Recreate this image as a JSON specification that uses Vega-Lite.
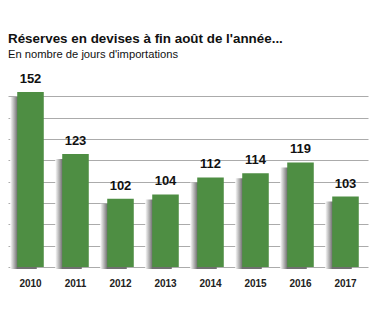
{
  "$schema": "https://vega.github.io/schema/vega-lite/v6.json",
  "width": 360,
  "height": 192,
  "autosize": "none",
  "padding": {"left": 8, "top": 75, "right": 21, "bottom": 54},
  "background": "white",
  "title": {
    "text": "Réserves en devises à fin août de l'année...",
    "subtitle": "En nombre de jours d'importations",
    "anchor": "start",
    "frame": "group",
    "offset": 13,
    "font": "Liberation Sans",
    "fontSize": 13.4,
    "fontWeight": "bold",
    "color": "#111111",
    "subtitleFont": "Liberation Sans",
    "subtitleFontSize": 11.2,
    "subtitleColor": "#111111",
    "subtitlePadding": 3
  },
  "data": {
    "values": [
      {"year": "2010", "value": 152},
      {"year": "2011", "value": 123},
      {"year": "2012", "value": 102},
      {"year": "2013", "value": 104},
      {"year": "2014", "value": 112},
      {"year": "2015", "value": 114},
      {"year": "2016", "value": 119},
      {"year": "2017", "value": 103}
    ]
  },
  "encoding": {
    "x": {
      "field": "year",
      "type": "ordinal",
      "scale": {"paddingInner": 0.41, "paddingOuter": 0.205},
      "axis": {
        "title": null,
        "labelAngle": 0,
        "domain": false,
        "ticks": false,
        "labelPadding": 11,
        "labelFont": "Liberation Sans",
        "labelFontSize": 10,
        "labelFontWeight": "bold",
        "labelColor": "#222222"
      }
    },
    "y": {
      "field": "value",
      "type": "quantitative",
      "scale": {"domain": [70, 160], "nice": false, "zero": false},
      "axis": {
        "title": null,
        "labels": false,
        "ticks": false,
        "domain": false,
        "values": [70, 80, 90, 100, 110, 120, 130, 140, 150],
        "gridColor": "#ababab",
        "gridWidth": 1
      }
    }
  },
  "layer": [
    {
      "mark": {
        "type": "bar",
        "xOffset": -7,
        "yOffset": 5,
        "y2Offset": 2,
        "color": {
          "gradient": "linear",
          "x1": 0, "x2": 1, "y1": 0, "y2": 0,
          "stops": [
            {"offset": 0, "color": "#ffffff"},
            {"offset": 0.27, "color": "#707070"},
            {"offset": 1, "color": "#707070"}
          ]
        }
      },
      "encoding": {"y2": {"datum": 70}}
    },
    {
      "mark": {"type": "bar", "color": "#4e8e43"},
      "encoding": {"y2": {"datum": 70}}
    },
    {
      "mark": {
        "type": "text",
        "dy": -9,
        "baseline": "alphabetic",
        "font": "Liberation Sans",
        "fontSize": 13,
        "fontWeight": "bold",
        "color": "#111111"
      },
      "encoding": {"text": {"field": "value", "type": "quantitative"}}
    }
  ],
  "config": {"view": {"stroke": null}}
}
